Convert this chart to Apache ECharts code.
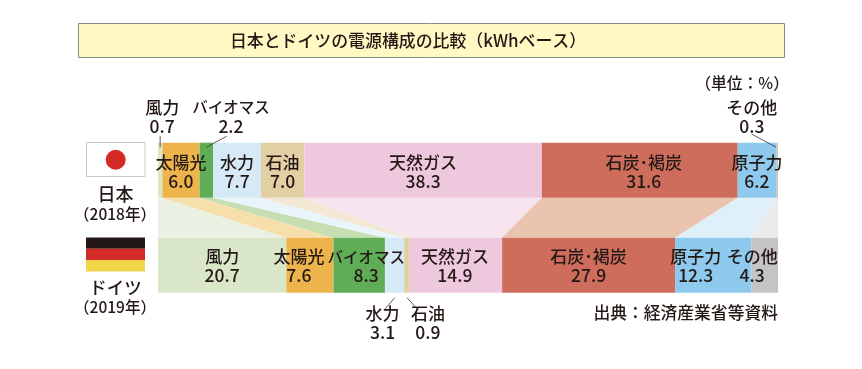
<!DOCTYPE html>
<html>
<head>
<meta charset="utf-8">
<style>html,body{margin:0;padding:0;background:#fff}#c{width:862px;height:369px}</style>
<script src="https://cdn.jsdelivr.net/npm/echarts@6/dist/echarts.min.js"></script>
</head>
<body>
<div id="c"></div>
<script>
const countries = ['日本', 'ドイツ'];
const years = ['（2018年）', '（2019年）'];
const sources = ['風力', '太陽光', 'バイオマス', '水力', '石油', '天然ガス', '石炭･褐炭', '原子力', 'その他'];
const japan = [0.7, 6.0, 2.2, 7.7, 7.0, 38.3, 31.6, 6.2, 0.3];
const germany = [20.7, 7.6, 8.3, 3.1, 0.9, 14.9, 27.9, 12.3, 4.3];
const colors = ['#d9e6c8', '#edb44b', '#5fad56', '#d6e9f7', '#e3cfa4', '#eec8dc', '#cf6d5c', '#8ec9ee', '#c4c4c4'];
const lightColors = ['#eaf1e2', '#f7dfab', '#c6deb2', '#e9f4fb', '#f2e8d3', '#f6e5ef', '#eac4af', '#dff0fa', '#ebebeb'];
const titleText = '日本とドイツの電源構成の比較（kWhベース）';
const unitText = '（単位：%）';
const sourceText = '出典：経済産業省等資料';

const FONT = '"Noto Sans CJK JP","Noto Sans",sans-serif';
const INK = '#231815';
const BAR_H = 55;

// label shifts from the segment centre, [dx, dy] for each source
const japanShift = [[2, -53.5], [0, 2], [24.6, -53.5], [0, 2], [0, 2], [0, 2], [4, 2], [0, 2], [-25.3, -53.5]];
const germanyShift = [[0, 1], [-11, 1], [7, 1], [-12, 58], [21, 58], [-1, 1], [0, 1], [-17.5, 1], [-12.5, 1]];
// leader lines: [source index, country index, x1, y1, x2, y2] offsets from the segment centre / bar centre
const leaders = [
  [0, 0, 0, -34, 0, -23],
  [2, 0, 20.3, -34, 0.3, -23],
  [8, 0, -25.3, -36, -1, -23],
  [3, 1, 0.3, 32.5, -9.7, 44],
  [4, 1, 0, 32.5, 11, 44.5]
];

function cumulative(vals) {
  let s = 0;
  return vals.map(v => { const a = s; s += v; return [a, s]; });
}
const cumJ = cumulative(japan);
const cumD = cumulative(germany);

const barSeries = sources.map((name, i) => ({
  name,
  type: 'bar',
  stack: 'total',
  barWidth: BAR_H,
  itemStyle: { color: colors[i] },
  z: 3,
  label: {
    show: true,
    position: 'inside',
    color: INK,
    fontFamily: FONT,
    formatter: p => '{n|' + name + '}\n{v|' + p.value.toFixed(1) + '}',
    rich: {
      n: { fontFamily: FONT, fontSize: name === 'バイオマス' ? 15.5 : 17, lineHeight: 19, color: INK, fontWeight: 500 },
      v: { fontFamily: FONT, fontSize: 17.5, lineHeight: 19, color: INK, fontWeight: 500 }
    }
  },
  data: [
    { value: japan[i], label: { offset: japanShift[i] } },
    { value: germany[i], label: { offset: germanyShift[i] } }
  ]
}));

const connectors = {
  type: 'custom',
  z: 1,
  silent: true,
  encode: { x: [0, 1, 2, 3], y: 4 },
  data: sources.map((_, i) => [cumJ[i][0], cumJ[i][1], cumD[i][0], cumD[i][1], 0, i]),
  renderItem(params, api) {
    const i = api.value(5);
    const a = api.coord([api.value(0), 0]);
    const b = api.coord([api.value(1), 0]);
    const c = api.coord([api.value(3), 1]);
    const d = api.coord([api.value(2), 1]);
    return {
      type: 'polygon',
      shape: { points: [
        [a[0], a[1] + BAR_H / 2], [b[0], b[1] + BAR_H / 2],
        [c[0], c[1] - BAR_H / 2], [d[0], d[1] - BAR_H / 2]
      ] },
      style: { fill: lightColors[i] }
    };
  }
};

const leaderSeries = {
  type: 'custom',
  z: 5,
  silent: true,
  encode: { x: 0, y: 1 },
  data: leaders.map((l, k) => {
    const c = l[1] === 0 ? cumJ[l[0]] : cumD[l[0]];
    return [(c[0] + c[1]) / 2, l[1], k];
  }),
  renderItem(params, api) {
    const p = api.coord([api.value(0), api.value(1)]);
    const l = leaders[api.value(2)];
    return {
      type: 'line',
      shape: { x1: p[0] + l[2], y1: p[1] + l[3], x2: p[0] + l[4], y2: p[1] + l[5] },
      style: { stroke: '#3a3230', lineWidth: 0.8 }
    };
  }
};

function txt(x, y, text, size, align, weight) {
  return { type: 'text', x, y, silent: true, style: {
    text, fill: INK, fontFamily: FONT, fontSize: size, fontWeight: weight || 'normal',
    textAlign: align || 'center', textVerticalAlign: 'middle'
  } };
}

const chart = echarts.init(document.getElementById('c'), null, { renderer: 'canvas' });
chart.setOption({
  animation: false,
  backgroundColor: '#fff',
  tooltip: { show: false },
  legend: { show: false },
  grid: { left: 158, width: 620, top: 122.7, height: 190 },
  xAxis: { type: 'value', min: 0, max: 100, show: false },
  yAxis: { type: 'category', data: countries, inverse: true, show: false },
  series: [connectors, ...barSeries, leaderSeries],
  graphic: [
    { type: 'rect', shape: { x: 78.5, y: 23.5, width: 706, height: 34 },
      style: { fill: '#fffac4', stroke: '#8a8a84', lineWidth: 1 }, silent: true },
    txt(408, 41, titleText, 16.9, 'center', 500),
    txt(789, 83, unitText, 15.8, 'right', 500),
    txt(778, 313, sourceText, 16.8, 'right', 500),
    { type: 'rect', shape: { x: 86.5, y: 142.5, width: 58.5, height: 34 },
      style: { fill: '#fff', stroke: '#c9c9c9', lineWidth: 1 }, silent: true },
    { type: 'circle', shape: { cx: 115.7, cy: 159.7, r: 10 }, style: { fill: '#d52b26' }, silent: true },
    { type: 'rect', shape: { x: 86, y: 237.5, width: 59, height: 11.3 }, style: { fill: '#231815' }, silent: true },
    { type: 'rect', shape: { x: 86, y: 248.8, width: 59, height: 11.3 }, style: { fill: '#d52b26' }, silent: true },
    { type: 'rect', shape: { x: 86, y: 260.1, width: 59, height: 11.3 }, style: { fill: '#f2d64a' }, silent: true },
    txt(115.5, 194, countries[0], 18, 'center', 500),
    txt(115, 214, years[0], 15.5, 'center', 500),
    txt(115.5, 287, countries[1], 17.5, 'center', 500),
    txt(115, 307, years[1], 15.5, 'center', 500)
  ]
});
</script>
</body>
</html>
